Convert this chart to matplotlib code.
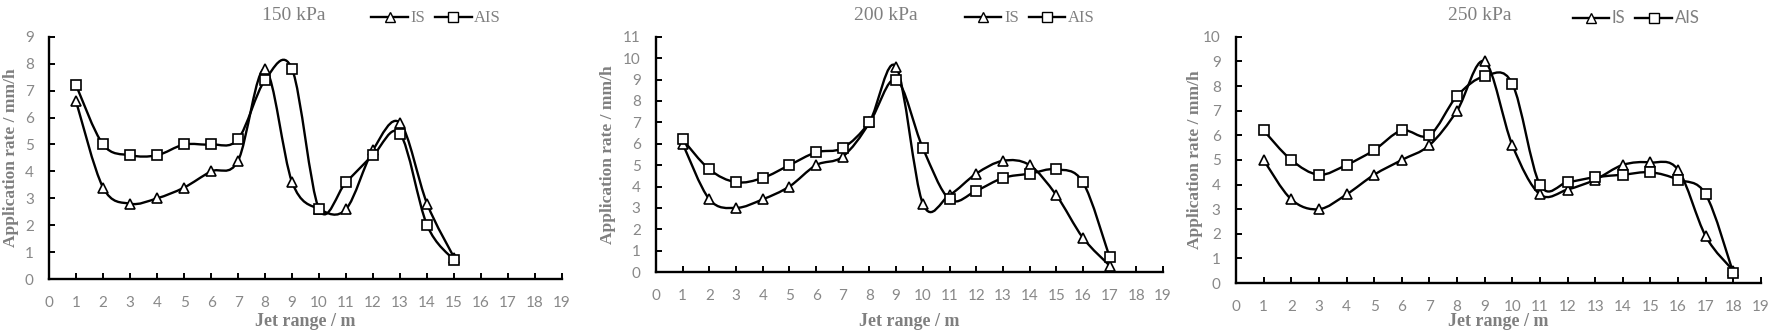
import numpy as np
import matplotlib
matplotlib.use("Agg")
import matplotlib.pyplot as plt
from matplotlib.path import Path
from matplotlib.patches import PathPatch
from matplotlib.lines import Line2D

# data
titles = ["150 kPa", "200 kPa", "250 kPa"]
ymax = [9, 11, 10]

x150 = list(range(1, 16))
is150 = [6.6, 3.4, 2.8, 3.0, 3.4, 4.0, 4.4, 7.8, 3.6, 2.6, 2.6, 4.8, 5.8, 2.8, 0.8]
ais150 = [7.2, 5.0, 4.6, 4.6, 5.0, 5.0, 5.2, 7.4, 7.8, 2.6, 3.6, 4.6, 5.4, 2.0, 0.7]

x200 = list(range(1, 18))
is200 = [6.0, 3.4, 3.0, 3.4, 4.0, 5.0, 5.4, 7.0, 9.6, 3.2, 3.6, 4.6, 5.2, 5.0, 3.6, 1.6, 0.3]
ais200 = [6.2, 4.8, 4.2, 4.4, 5.0, 5.6, 5.8, 7.0, 9.0, 5.8, 3.4, 3.8, 4.4, 4.6, 4.8, 4.2, 0.7]

x250 = list(range(1, 19))
is250 = [5.0, 3.4, 3.0, 3.6, 4.4, 5.0, 5.6, 7.0, 9.0, 5.6, 3.6, 3.8, 4.2, 4.8, 4.9, 4.6, 1.9, 0.5]
ais250 = [6.2, 5.0, 4.4, 4.8, 5.4, 6.2, 6.0, 7.6, 8.4, 8.1, 4.0, 4.1, 4.3, 4.4, 4.5, 4.2, 3.6, 0.4]

xs = [x150, x200, x250]
iss = [is150, is200, is250]
aiss = [ais150, ais200, ais250]

# axes boxes in figure fractions (left, bottom, width, height)
boxes = [(0.0277, 0.167, 0.2895, 0.723),
         (0.3702, 0.188, 0.2861, 0.702),
         (0.6975, 0.155, 0.2963, 0.735)]
ylab_x = [-0.058, -0.079, -0.063]
xlab_top = 0.066   # all x labels sit at the same figure height
# title x, legend x in figure fractions
title_x = [0.166, 0.500, 0.835]
leg_x = [0.201, 0.536, 0.879]
leg_fonts = ["Liberation Serif", "Liberation Serif", "Lato"]

gray = "#7f7f7f"
tick_gray = "#888888"


def smooth_path(x, y):
    # excel-like smoothed line: bezier through the points
    p = np.column_stack([x, y]).astype(float)
    verts = [p[0]]
    codes = [Path.MOVETO]
    n = len(p)
    for i in range(n - 1):
        p0 = p[i - 1] if i > 0 else p[i]
        p1 = p[i]
        p2 = p[i + 1]
        p3 = p[i + 2] if i + 2 < n else p[i + 1]
        c1 = p1 + (p2 - p0) / 6.0
        c2 = p2 - (p3 - p1) / 6.0
        verts += [c1, c2, p2]
        codes += [Path.CURVE4] * 3
    return Path(verts, codes)


fig = plt.figure(figsize=(17.72, 3.35), dpi=100)

for k in range(3):
    ax = fig.add_axes(boxes[k])
    for yv, mk in [(iss[k], "^"), (aiss[k], "s")]:
        ax.add_patch(PathPatch(smooth_path(xs[k], yv), facecolor="none",
                               edgecolor="black", lw=1.7, zorder=2))
        ax.plot(xs[k], yv, linestyle="none", marker=mk, markersize=7,
                markerfacecolor="white", markeredgecolor="black",
                markeredgewidth=1.2, zorder=3)
    ax.set_xlim(0, 19)
    ax.set_ylim(0, ymax[k])
    ax.set_xticks(range(0, 20))
    ax.set_yticks(range(0, ymax[k] + 1))
    for s in ["top", "right"]:
        ax.spines[s].set_visible(False)
    for s in ["left", "bottom"]:
        ax.spines[s].set_linewidth(1.7)
    ax.tick_params(direction="in", length=4, width=1.4, labelsize=11,
                   labelcolor=tick_gray)
    ax.tick_params(axis="x", pad=12)
    ax.tick_params(axis="y", pad=11)
    for lab in ax.get_xticklabels() + ax.get_yticklabels():
        lab.set_family("Lato")
    ax.set_xlabel("Jet range / m", family="Liberation Serif", fontsize=13,
                  fontweight="bold", color=gray)
    ax.xaxis.set_label_coords(0.5, (xlab_top - boxes[k][1]) / boxes[k][3])
    ax.set_ylabel("Application rate / mm/h", family="Liberation Serif",
                  fontsize=12.5, fontweight="bold", color=gray)
    ax.yaxis.set_label_coords(ylab_x[k], 0.5)

    fig.text(title_x[k], 0.955, titles[k], ha="center", va="center",
             family="Liberation Serif", fontsize=14, color=gray)
    handles = [Line2D([], [], color="black", lw=1.7, marker="^", markersize=7,
                      markerfacecolor="white", markeredgecolor="black"),
               Line2D([], [], color="black", lw=1.7, marker="s", markersize=7,
                      markerfacecolor="white", markeredgecolor="black")]
    fig.legend(handles, ["IS", "AIS"], loc="center left",
               bbox_to_anchor=(leg_x[k], 0.945), ncol=2, frameon=False,
               handlelength=2.2, handletextpad=0.15, columnspacing=0.6,
               prop={"family": leg_fonts[k], "size": 12}, labelcolor=gray)

fig.savefig("out.png", dpi=100)
